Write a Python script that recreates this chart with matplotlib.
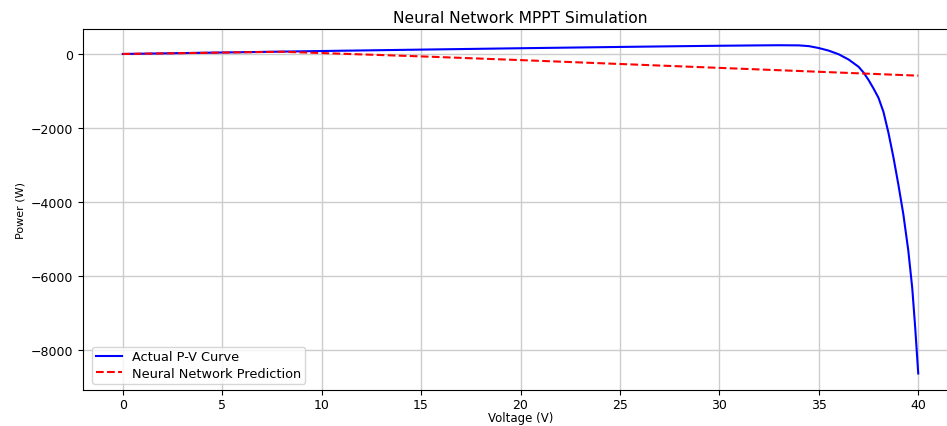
import numpy as np
import matplotlib
matplotlib.use("Agg")
import matplotlib.pyplot as plt

# actual P-V curve
volts_actual = [0, 5, 10, 15, 20, 25, 28, 30, 32, 33, 34, 34.5, 35, 35.5, 36,
                36.5, 37, 37.25, 37.5, 37.75, 38, 38.25, 38.5, 38.75, 39,
                39.25, 39.5, 39.7, 39.85, 40]
power_actual = [0, 40, 80, 118, 155, 190, 210, 222, 232, 236, 232, 212, 160,
                90, -8, -150, -345, -500, -700, -930, -1180, -1560, -2120,
                -2780, -3520, -4320, -5300, -6320, -7400, -8620]

# neural network prediction
volts_pred = [0, 2, 4, 6, 8, 10, 15, 20, 25, 30, 35, 40]
power_pred = [0, 15, 30, 46, 60, 25, -65, -165, -270, -375, -480, -585]

fig = plt.figure(figsize=(9.47, 4.27), dpi=100)
ax = fig.add_axes([83 / 947, 36 / 427, 875 / 947, 361 / 427])

ax.plot(volts_actual, power_actual, color="blue", lw=1.5, label="Actual P-V Curve")
ax.plot(volts_pred, power_pred, color="red", ls="--", lw=1.5, label="Neural Network Prediction")

ax.set_xlim(-2, 42)
ax.set_ylim(-9066, 674)
ax.set_title("Neural Network MPPT Simulation", fontsize=11.2, pad=5)
ax.set_xlabel("Voltage (V)", fontsize=8.5, labelpad=0)
ax.set_ylabel("Power (W)", fontsize=8)
ax.tick_params(labelsize=9)
ax.tick_params(axis="x", pad=2.5)
ax.spines["right"].set_visible(False)
ax.grid(True, color="#cccccc", lw=1)
ax.legend(loc="lower left", fontsize=9.3, labelspacing=0.25, borderpad=0.3,
          bbox_to_anchor=(0.003, 0.0))

fig.savefig("out.png", dpi=100)
